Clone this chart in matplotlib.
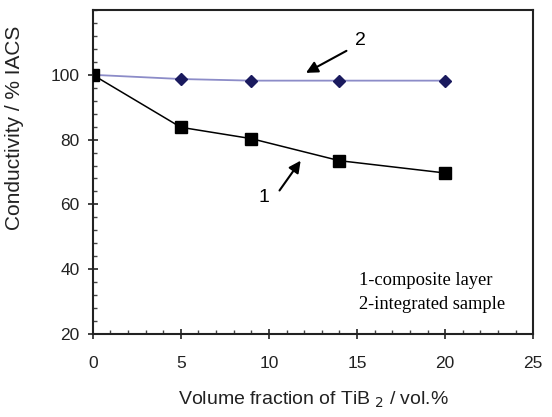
import matplotlib
matplotlib.use('Agg')

import matplotlib.pyplot as plt
from matplotlib.ticker import MultipleLocator

# Data
vol_fraction = [0, 5, 9, 14, 20]
composite_layer = [100, 83.8, 80.3, 73.5, 69.7]
integrated_sample = [100, 98.7, 98.2, 98.2, 98.2]

x_ticks = [0, 5, 10, 15, 20, 25]
y_ticks = [20, 40, 60, 80, 100]

plt.rcParams['font.family'] = ['Liberation Sans', 'DejaVu Sans']

fig = plt.figure(figsize=(5.52, 4.17), dpi=100)
ax = fig.add_axes([0.168, 0.199, 0.798, 0.777])

# ── series 2: integrated sample ──
ax.plot(vol_fraction, integrated_sample, color="#8c8cc8", linewidth=1.3,
        marker="D", markersize=6, markerfacecolor="#1a1a5e",
        markeredgecolor="#1a1a5e", zorder=3)

# ── series 1: composite layer ──
ax.plot(vol_fraction, composite_layer, color="black", linewidth=1.1,
        marker="s", markersize=9, markerfacecolor="black",
        markeredgecolor="black", zorder=3)

ax.set_xlim(0, 25)
ax.set_ylim(20, 120)
ax.set_xticks(x_ticks)
ax.set_yticks(y_ticks)
ax.xaxis.set_minor_locator(MultipleLocator(1))
ax.yaxis.set_minor_locator(MultipleLocator(4))
ax.tick_params(axis="both", which="major", direction="inout", length=7,
               width=1.2, labelsize=12.5, pad=6, colors="#222222")
ax.tick_params(axis="both", which="minor", direction="in", length=3,
               width=1, colors="#444444")
ax.tick_params(axis="x", which="major", pad=12)

for sp in ax.spines.values():
    sp.set_linewidth(1.5)
    sp.set_color("#222222")

# y label sits above the axis centre in the original
ax.set_ylabel("Conductivity / % IACS", fontsize=15, color="#222222")
ax.yaxis.set_label_coords(-0.155, 0.636)
ax.set_xlabel("Volume fraction of TiB$_{\\ 2}$ / vol.%", fontsize=14,
              labelpad=14, color="#222222")

# ── curve labels with arrows ──
arrow = dict(arrowstyle="-|>,head_length=0.7,head_width=0.35",
             color="black", linewidth=1.5, shrinkA=0, shrinkB=0)
ax.annotate("", xy=(12.1, 100.6), xytext=(14.4, 107.4), arrowprops=arrow)
ax.text(15.2, 110.5, "2", fontsize=14, ha="center", va="center")
ax.annotate("", xy=(11.8, 73.5), xytext=(10.6, 64.3), arrowprops=arrow)
ax.text(9.7, 62.2, "1", fontsize=14, ha="center", va="center")

# ── legend text ──
ax.text(15.1, 36.6, "1-composite layer", fontsize=13.3,
        family=["Liberation Serif", "DejaVu Serif"], va="center")
ax.text(15.1, 29.2, "2-integrated sample", fontsize=13.3,
        family=["Liberation Serif", "DejaVu Serif"], va="center")

fig.savefig("out.png", dpi=100, facecolor="white")
plt.close(fig)
